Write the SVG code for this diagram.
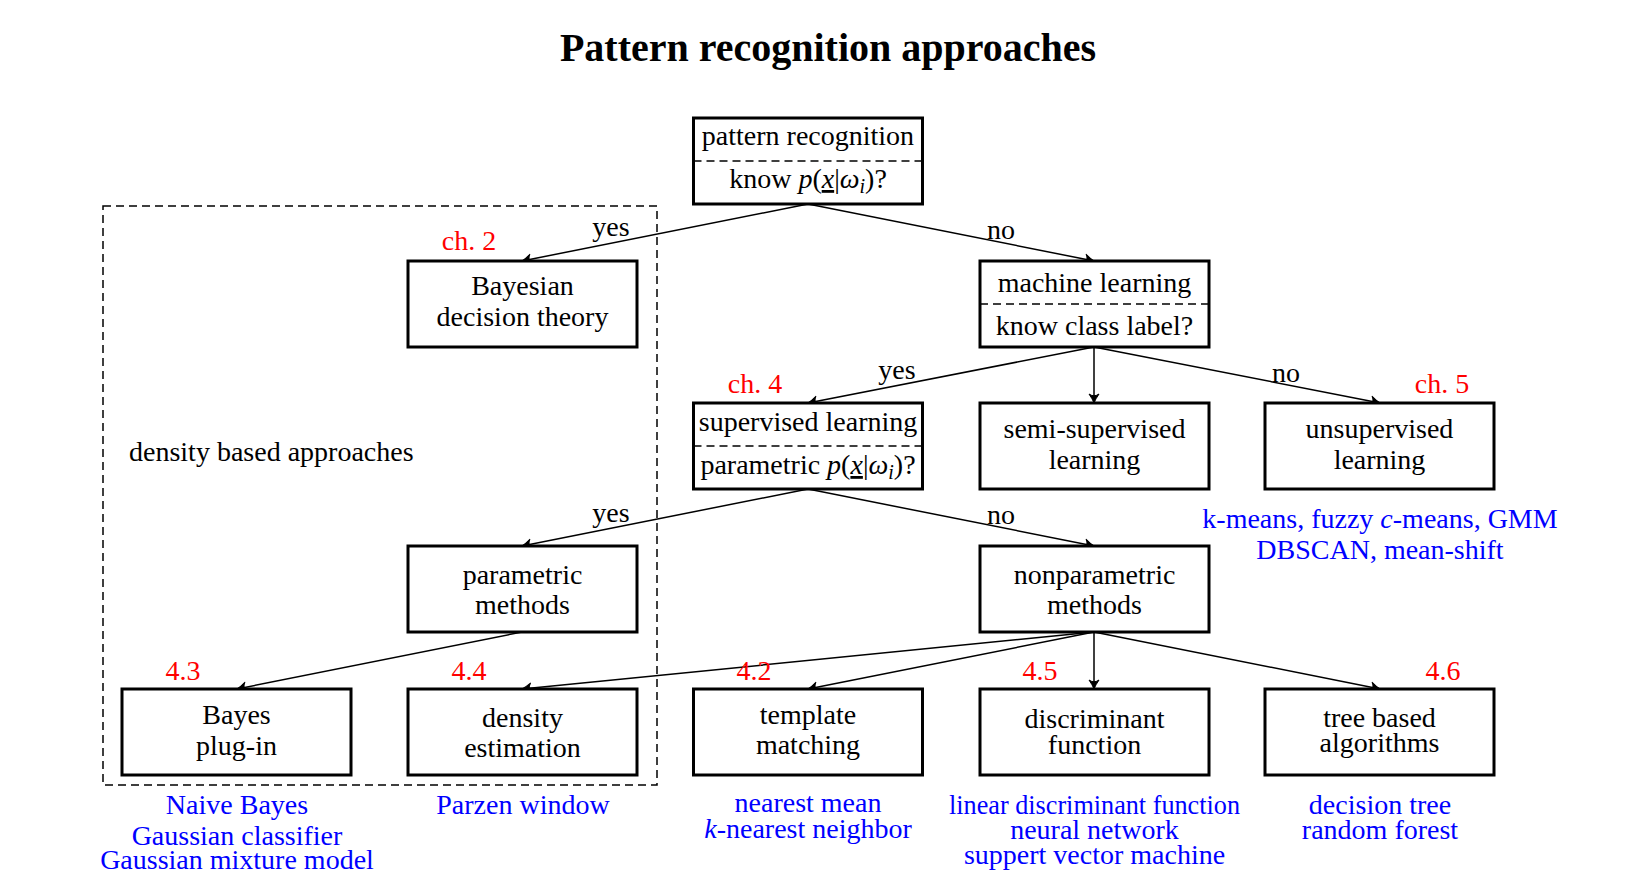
<svg xmlns="http://www.w3.org/2000/svg" width="1650" height="882" viewBox="0 0 1650 882">
<style>
text{font-family:"Liberation Serif","Times New Roman",serif;font-size:28px;fill:#000}
.title{font-size:40px;font-weight:bold}
.box{fill:#fff;stroke:#000;stroke-width:3}
.div{stroke:#000;stroke-width:1.5;stroke-dasharray:8 5}
.edge{stroke:#000;stroke-width:1.5;fill:none;marker-end:url(#arr)}
.red{fill:#ff0000}
.blue{fill:#0000ff}
.m{text-anchor:middle}
.it{font-style:italic}
</style>
<defs>
<marker id="arr" viewBox="-11 -7 13 14" refX="0" refY="0" markerWidth="13" markerHeight="14" markerUnits="userSpaceOnUse" orient="auto">
<path d="M0,0 Q-4,-1.5 -9,-5 Q-5.5,0 -9,5 Q-4,1.5 0,0 z" fill="#000" stroke="#000" stroke-width="1" stroke-linejoin="round"/>
</marker>
</defs>
<rect width="1650" height="882" fill="#fff"/>
<text class="title m" x="828" y="61">Pattern recognition approaches</text>

<g id="density-region">
<rect x="103" y="206" width="554" height="579" fill="none" class="div"/>
<text x="129" y="461">density based approaches</text>
</g>

<g id="connectors">
<line class="edge" x1="808" y1="204" x2="522" y2="261"/>
<line class="edge" x1="808" y1="204" x2="1094" y2="261"/>
<line class="edge" x1="1094" y1="347" x2="808" y2="403"/>
<line class="edge" x1="1094" y1="347" x2="1094" y2="403"/>
<line class="edge" x1="1094" y1="347" x2="1380" y2="403"/>
<line class="edge" x1="808" y1="489" x2="522" y2="546"/>
<line class="edge" x1="808" y1="489" x2="1094" y2="546"/>
<line class="edge" x1="522" y1="632" x2="237" y2="689"/>
<line class="edge" x1="1094" y1="632" x2="522" y2="689"/>
<line class="edge" x1="1094" y1="632" x2="808" y2="689"/>
<line class="edge" x1="1094" y1="632" x2="1094" y2="689"/>
<line class="edge" x1="1094" y1="632" x2="1380" y2="689"/>
<text class="m" x="611" y="236">yes</text>
<text class="m" x="1001" y="239">no</text>
<text class="m" x="897" y="379">yes</text>
<text class="m" x="1286" y="382">no</text>
<text class="m" x="611" y="522">yes</text>
<text class="m" x="1001" y="524">no</text>
</g>

<g id="pattern-recognition">
<rect class="box" x="693.5" y="118" width="229" height="86"/>
<line class="div" x1="693.5" y1="161" x2="922.5" y2="161"/>
<text class="m" x="808" y="145">pattern recognition</text>
<text class="m" x="808" y="188">know <tspan class="it">p</tspan>(<tspan class="it" text-decoration="underline">x</tspan>|<tspan class="it">ω</tspan><tspan class="it" font-size="20" dy="5">i</tspan><tspan dy="-5">)?</tspan></text>
</g>

<g id="bayesian">
<rect class="box" x="408" y="261" width="229" height="86"/>
<text class="m" x="522.5" y="295">Bayesian</text>
<text class="m" x="522.5" y="326">decision theory</text>
<text class="red m" x="469" y="250">ch. 2</text>
</g>

<g id="machine-learning">
<rect class="box" x="980" y="261" width="229" height="86"/>
<line class="div" x1="980" y1="304" x2="1209" y2="304"/>
<text class="m" x="1094.5" y="292">machine learning</text>
<text class="m" x="1094.5" y="335">know class label?</text>
</g>

<g id="supervised">
<rect class="box" x="693.5" y="403" width="229" height="86"/>
<line class="div" x1="693.5" y1="446" x2="922.5" y2="446"/>
<text class="m" x="808" y="431">supervised learning</text>
<text class="m" x="808" y="474">parametric <tspan class="it">p</tspan>(<tspan class="it" text-decoration="underline">x</tspan>|<tspan class="it">ω</tspan><tspan class="it" font-size="20" dy="5">i</tspan><tspan dy="-5">)?</tspan></text>
<text class="red m" x="755" y="393">ch. 4</text>
</g>

<g id="semi-supervised">
<rect class="box" x="980" y="403" width="229" height="86"/>
<text class="m" x="1094.5" y="438">semi-supervised</text>
<text class="m" x="1094.5" y="469">learning</text>
</g>

<g id="unsupervised">
<rect class="box" x="1265" y="403" width="229" height="86"/>
<text class="m" x="1379.5" y="438">unsupervised</text>
<text class="m" x="1379.5" y="469">learning</text>
<text class="red m" x="1442" y="393">ch. 5</text>
<text class="blue m" x="1380" y="528">k-means, fuzzy <tspan class="it">c</tspan>-means, GMM</text>
<text class="blue m" x="1380" y="559">DBSCAN, mean-shift</text>
</g>

<g id="parametric">
<rect class="box" x="408" y="546" width="229" height="86"/>
<text class="m" x="522.5" y="584">parametric</text>
<text class="m" x="522.5" y="614">methods</text>
</g>

<g id="nonparametric">
<rect class="box" x="980" y="546" width="229" height="86"/>
<text class="m" x="1094.5" y="584">nonparametric</text>
<text class="m" x="1094.5" y="614">methods</text>
</g>

<g id="bayes-plugin">
<rect class="box" x="122" y="689" width="229" height="86"/>
<text class="m" x="236.5" y="724">Bayes</text>
<text class="m" x="236.5" y="755">plug-in</text>
<text class="red m" x="183" y="680">4.3</text>
<text class="blue m" x="237" y="814">Naive Bayes</text>
<text class="blue m" x="237" y="845">Gaussian classifier</text>
<text class="blue m" x="237" y="869">Gaussian mixture model</text>
</g>

<g id="density-estimation">
<rect class="box" x="408" y="689" width="229" height="86"/>
<text class="m" x="522.5" y="727">density</text>
<text class="m" x="522.5" y="757">estimation</text>
<text class="red m" x="469" y="680">4.4</text>
<text class="blue m" x="523" y="814">Parzen window</text>
</g>

<g id="template-matching">
<rect class="box" x="693.5" y="689" width="229" height="86"/>
<text class="m" x="808" y="724">template</text>
<text class="m" x="808" y="754">matching</text>
<text class="red m" x="754" y="680">4.2</text>
<text class="blue m" x="808" y="812">nearest mean</text>
<text class="blue m" x="808" y="838"><tspan class="it">k</tspan>-nearest neighbor</text>
</g>

<g id="discriminant-function">
<rect class="box" x="980" y="689" width="229" height="86"/>
<text class="m" x="1094.5" y="728">discriminant</text>
<text class="m" x="1094.5" y="754">function</text>
<text class="red m" x="1040" y="680">4.5</text>
<text class="blue m" x="1094.5" y="814" textLength="291" lengthAdjust="spacingAndGlyphs">linear discriminant function</text>
<text class="blue m" x="1094.5" y="839">neural network</text>
<text class="blue m" x="1094.5" y="864">suppert vector machine</text>
</g>

<g id="tree-based">
<rect class="box" x="1265" y="689" width="229" height="86"/>
<text class="m" x="1379.5" y="727">tree based</text>
<text class="m" x="1379.5" y="752">algorithms</text>
<text class="red m" x="1443" y="680">4.6</text>
<text class="blue m" x="1380" y="814">decision tree</text>
<text class="blue m" x="1380" y="839">random forest</text>
</g>
</svg>
